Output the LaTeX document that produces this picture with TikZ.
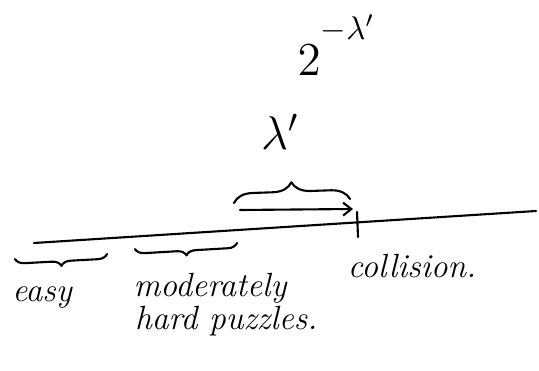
\documentclass[tikz,border=0pt]{standalone}
\usepackage{amsmath}
\usetikzlibrary{arrows.meta, positioning, decorations.pathreplacing}

\begin{document}
\begin{tikzpicture}[x=0.03cm, y=-0.03cm, >={Straight Barb[length=7pt, width=11pt]}]
        % Styles
        \tikzset{
            ink/.style={line width=1.8pt, line cap=round, line join=round},
            scrawl/.style={font=\Huge\itshape, scale=1.15, inner sep=1pt},
            curly/.style={ink, decorate, decoration={brace, amplitude=16pt}},
            curlydown/.style={ink, decorate, decoration={brace, mirror, amplitude=8pt}}
        }
        \useasboundingbox (0,0) rectangle (539,371);

        % Axis and collision mark
        \coordinate (axisL) at (34,243);
        \coordinate (axisR) at (536,211);
        \coordinate (collTop) at (357,212);
        \coordinate (collBot) at (358,237);
        \coordinate (stepL) at (240,210);
        \coordinate (stepR) at (353,209);
        \draw [ink] (axisL) -- (axisR);
        \draw [ink] (collTop) -- (collBot);
        \draw [ink, ->] (stepL) -- (stepR);

        % Labels
        \node [scrawl] (collTxt) at (412,266) {collision.};
        \node [scrawl] (easyTxt) at (42,298) {easy};
        \node [scrawl] (modTxt) at (210,288) {moderately};
        \node [scrawl, below=0pt of modTxt, xshift=12pt] (hardTxt) {hard puzzles.};
        \node [font=\Large, scale=2.8] (lamTxt) at (280,132) {$\lambda'$};
        \node [font=\Large, scale=2.8] (powTxt) at (337,45) {$2^{\raisebox{0.4em}{$\scriptstyle-\lambda'$}}$};

        % Braces
        \draw [curly] (234,203) -- (350,199);
        \draw [curlydown] (15,259) -- (107,254);
        \draw [curlydown] (135,249) -- (237,243);
    \end{tikzpicture}
\end{document}
